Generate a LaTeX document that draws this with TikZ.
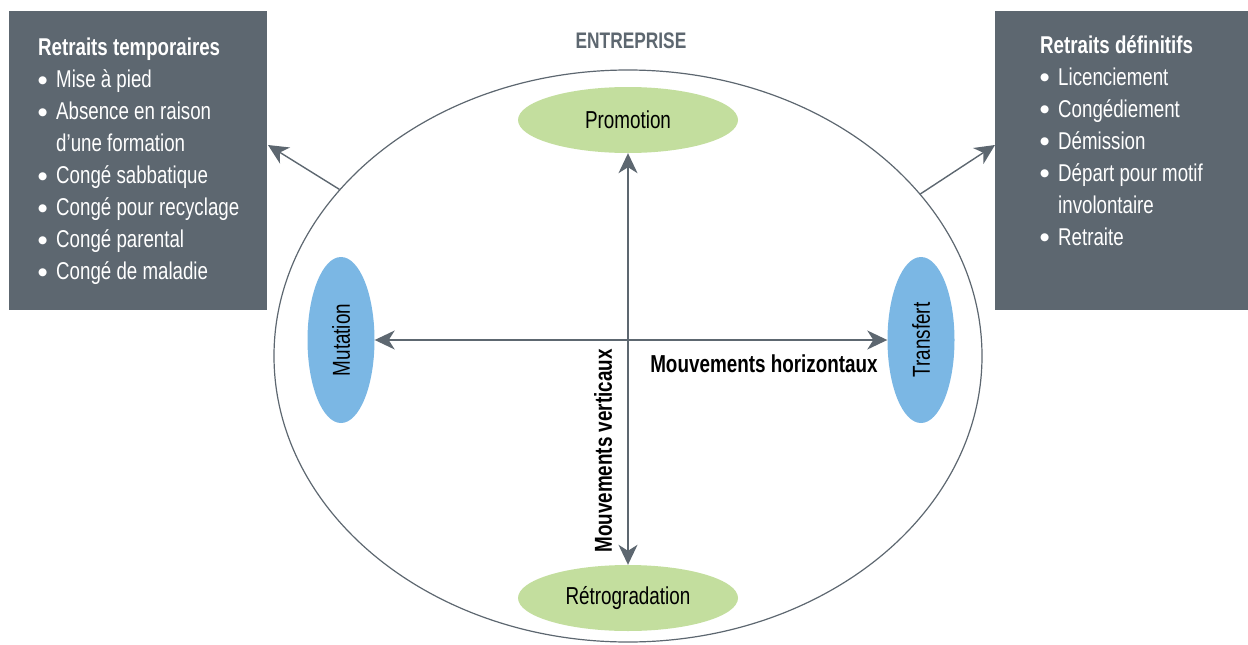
\documentclass[tikz,border=0pt]{standalone}
\usepackage{fontspec}
\setmainfont{Liberation Sans}[FakeStretch=0.77]
\newfontfamily\dejavu{DejaVu Sans}
\usetikzlibrary{shapes.geometric,arrows.meta}
\definecolor{boxgray}{HTML}{5D6770}
\definecolor{ovgreen}{HTML}{C3DE9E}
\definecolor{ovblue}{HTML}{7BB7E4}
\newcommand{\bul}{\makebox[18pt][l]{\raisebox{4.5pt}{\dejavu\fontsize{10.5}{11}\selectfont ●}}}
\newcommand{\cont}{\hspace*{18pt}}
\begin{document}
\begin{tikzpicture}[x=1pt,y=-1pt,
  panel/.style={fill=boxgray, draw=none, inner sep=0pt},
  paneltext/.style={text=white, align=left, inner sep=0pt, anchor=north west,
    font=\fontsize{24.3}{32}\selectfont},
  hov/.style={ellipse, fill=ovgreen, inner sep=0pt, minimum width=220pt, minimum height=66pt,
    font=\fontsize{24.5}{26}\selectfont},
  vov/.style={ellipse, fill=ovblue, inner sep=0pt, minimum width=166pt, minimum height=67pt,
    rotate=90, font=\fontsize{24.5}{26}\selectfont},
  arr/.style={{Stealth[length=20pt,width=19pt,inset=6pt]}-{Stealth[length=20pt,width=19pt,inset=6pt]},
    line width=1.4pt, draw=boxgray},
  oarr/.style={-{Stealth[length=20pt,width=19pt,inset=6pt]}, line width=1.4pt, draw=boxgray},
  lbl/.style={font=\bfseries\fontsize{24.5}{26}\selectfont, inner sep=0pt}
]
\useasboundingbox (0,0) rectangle (1248,645);

% enterprise
\node[ellipse, draw=boxgray, line width=1.2pt, minimum width=708pt, minimum height=572pt, inner sep=0pt] (ent) at (628,356) {};
\node[font=\bfseries\fontsize{22.5}{26}\selectfont, text=boxgray, inner sep=0pt] (entl) at (631,41) {ENTREPRISE};

% panels
\node[panel, minimum width=258pt, minimum height=299pt] (lbox) at (138,160.5) {};
\node[paneltext] (ltext) at (38,38) {\textbf{Retraits temporaires}\\
\bul Mise à pied\\
\bul Absence en raison\\
\cont d’une formation\\
\bul Congé sabbatique\\
\bul Congé pour recyclage\\
\bul Congé parental\\
\bul Congé de maladie};

\node[panel, minimum width=253pt, minimum height=299pt] (rbox) at (1121.5,160.5) {};
\node[paneltext] (rtext) at (1040,35) {\textbf{Retraits définitifs}\\
\bul Licenciement\\
\bul Congédiement\\
\bul Démission\\
\bul Départ pour motif\\
\cont involontaire\\
\bul Retraite};

% inner ovals
\node[hov] (promo) at (628,120) {Promotion};
\node[hov] (retro) at (628,598) {Rétrogradation};
\node[vov] (mut) at (341,340) {Mutation};
\node[vov] (tra) at (921,340) {Transfert};

% arrows
\draw[arr] (promo) -- (retro);
\draw[arr] (mut) -- (tra);
\coordinate (lend) at (268,145);
\coordinate (rend) at (995,145);
\draw[oarr] (ent.150.3) -- (lend);
\draw[oarr] (ent.29.1) -- (rend);

% labels
\node[lbl] (hl) at (764,364) {Mouvements horizontaux};
\node[lbl, rotate=90] (vl) at (603,451) {Mouvements verticaux};
\end{tikzpicture}
\end{document}
